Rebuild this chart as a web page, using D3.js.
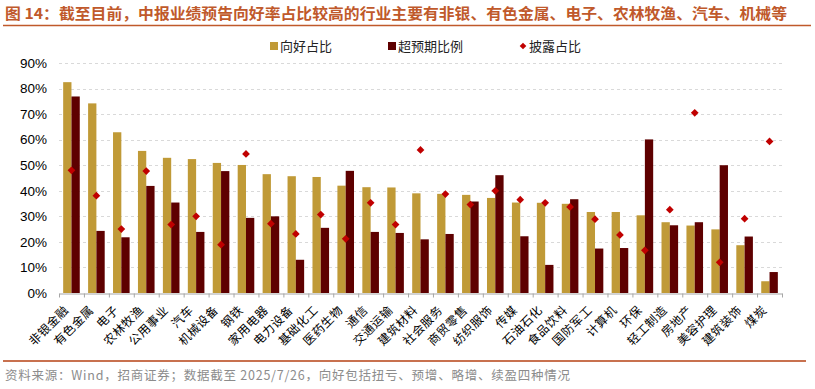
<!DOCTYPE html>
<html>
<head>
<meta charset="utf-8">
<script src="https://cdn.jsdelivr.net/npm/d3@7"></script>
<style>
  body { margin: 0; background: #fff; }
  svg { display: block; }
</style>
</head>
<body>
<div id="chart"></div>
<script>
// 行业
const industries = ['非银金融','有色金属','电子','农林牧渔','公用事业','汽车','机械设备','钢铁','家用电器','电力设备',
  '基础化工','医药生物','通信','交通运输','建筑材料','社会服务','商贸零售','纺织服饰','传媒','石油石化',
  '食品饮料','国防军工','计算机','环保','轻工制造','房地产','美容护理','建筑装饰','煤炭'];
// 向好占比 (%)
const goodShare = [82.5,74.2,62.9,55.6,52.9,52.4,50.9,50.1,46.5,45.7,
  45.4,42.0,41.4,41.3,39.0,38.8,38.4,37.2,35.4,35.3,
  34.9,31.7,31.7,30.4,27.7,26.4,24.9,18.7,4.6];
// 超预期比例 (%)
const beatShare = [76.9,24.3,21.8,41.9,35.4,23.9,47.7,29.4,30.0,13.0,
  25.5,47.8,23.9,23.5,21.0,23.1,35.8,46.1,22.2,11.0,
  36.7,17.4,17.6,60.1,26.5,27.7,50.0,22.1,8.2];
// 披露占比 (%)
const discloseShare = [48.0,38.1,25.0,47.7,26.8,30.0,18.9,54.4,27.1,23.1,
  30.7,21.2,35.3,26.8,56.0,38.7,34.6,40.0,36.5,35.3,
  33.7,28.9,22.7,16.7,32.6,70.5,12.0,29.1,59.3];
const yTicks = [0,10,20,30,40,50,60,70,80,90];

const width = 815, height = 389;
const margin = {top: 63, right: 33, bottom: 96, left: 59};
const colGood = '#c09a37', colBeat = '#5e0000', colDisc = '#c00000';
const cjk = '"Noto Sans CJK SC", sans-serif';

const svg = d3.select('#chart').append('svg')
  .attr('width', width)
  .attr('height', height);

// title
svg.append('text')
  .attr('x', 5).attr('y', 19)
  .attr('fill', '#c0592b')
  .attr('font-family', cjk)
  .attr('font-weight', 'bold')
  .attr('font-size', 15)
  .attr('textLength', 782)
  .attr('lengthAdjust', 'spacingAndGlyphs')
  .text('图 14：截至目前，中报业绩预告向好率占比较高的行业主要有非银、有色金属、电子、农林牧渔、汽车、机械等');
svg.append('line')
  .attr('x1', 3).attr('x2', 811).attr('y1', 25.5).attr('y2', 25.5)
  .attr('stroke', '#c0592b').attr('stroke-width', 1.5);

const x = d3.scaleBand()
  .domain(industries)
  .range([margin.left, width - margin.right]);
const y = d3.scaleLinear()
  .domain([0, 90])
  .range([height - margin.bottom, margin.top]);

//gridlines
svg.append('g').selectAll('line')
  .data(yTicks.filter(d => d > 0))
  .enter().append('line')
  .attr('x1', margin.left).attr('x2', width - margin.right)
  .attr('y1', d => Math.round(y(d)) + 0.5).attr('y2', d => Math.round(y(d)) + 0.5)
  .attr('stroke', '#d9d9d9')
  .attr('stroke-dasharray', '3,3');

// y axis labels
const yAxis = d3.axisLeft(y)
  .tickValues(yTicks)
  .tickFormat(d => d + '%')
  .tickSize(0)
  .tickPadding(12);
const yG = svg.append('g')
  .attr('transform', 'translate(' + margin.left + ',0)')
  .call(yAxis);
yG.select('.domain').remove();
yG.selectAll('text')
  .attr('font-family', 'Liberation Sans, Arial, sans-serif')
  .attr('font-size', 13.5)
  .attr('fill', '#000');

// bars
const bw = 8.3;
const bars = svg.append('g');
bars.selectAll('rect.good')
  .data(industries)
  .enter().append('rect')
  .attr('class', 'good')
  .attr('x', d => x(d) + x.bandwidth() / 2 - bw)
  .attr('y', (d, i) => y(goodShare[i]))
  .attr('width', bw)
  .attr('height', (d, i) => y(0) - y(goodShare[i]))
  .attr('fill', colGood);
bars.selectAll('rect.beat')
  .data(industries)
  .enter().append('rect')
  .attr('class', 'beat')
  .attr('x', d => x(d) + x.bandwidth() / 2)
  .attr('y', (d, i) => y(beatShare[i]))
  .attr('width', bw)
  .attr('height', (d, i) => y(0) - y(beatShare[i]))
  .attr('fill', colBeat);

// x axis
const xAxis = d3.axisBottom(x).tickSize(0).tickFormat('');
const xG = svg.append('g')
  .attr('transform', 'translate(0,' + (y(0) + 0.5) + ')')
  .call(xAxis);
xG.select('.domain').attr('stroke', '#a6a6a6');
xG.selectAll('line.sep')
  .data(d3.range(industries.length + 1))
  .enter().append('line')
  .attr('class', 'sep')
  .attr('x1', i => margin.left + i * x.step() + 0.5)
  .attr('x2', i => margin.left + i * x.step() + 0.5)
  .attr('y1', 0).attr('y2', 4)
  .attr('stroke', '#a6a6a6');

// x labels
svg.append('g').selectAll('text')
  .data(industries)
  .enter().append('text')
  .attr('transform', d => 'translate(' + (x(d) + x.bandwidth() / 2 - 5) + ',' + (y(0) + 15) + ') rotate(-45)')
  .attr('text-anchor', 'end')
  .attr('dy', '0.35em')
  .attr('font-family', cjk)
  .attr('font-size', 12)
  .attr('letter-spacing', 0.5)
  .attr('fill', '#000')
  .text(d => d);

// diamonds
const diamond = d3.symbol().type(d3.symbolSquare).size(30);
svg.append('g').selectAll('path')
  .data(industries)
  .enter().append('path')
  .attr('d', diamond)
  .attr('transform', (d, i) => 'translate(' + (x(d) + x.bandwidth() / 2) + ',' + y(discloseShare[i]) + ') rotate(45)')
  .attr('fill', colDisc);

// legend
const legend = svg.append('g').attr('font-family', cjk).attr('font-size', 13);
const legendItems = [
  {name: '向好占比', type: 'rect', color: colGood, x: 270},
  {name: '超预期比例', type: 'rect', color: colBeat, x: 388},
  {name: '披露占比', type: 'diamond', color: colDisc, x: 519}
];
legendItems.forEach(item => {
  if(item.type === 'rect'){
    legend.append('rect')
      .attr('x', item.x).attr('y', 42)
      .attr('width', 8).attr('height', 8)
      .attr('fill', item.color);
  }else{
    legend.append('path')
      .attr('d', d3.symbol().type(d3.symbolSquare).size(22))
      .attr('transform', 'translate(' + (item.x + 4) + ',46) rotate(45)')
      .attr('fill', item.color);
  }
  legend.append('text')
    .attr('x', item.x + 10).attr('y', 51)
    .attr('fill', '#222')
    .text(item.name);
});

// source
svg.append('line')
  .attr('x1', 3).attr('x2', 806).attr('y1', 361).attr('y2', 361)
  .attr('stroke', '#c8714f').attr('stroke-width', 2);
svg.append('text')
  .attr('x', 5).attr('y', 380)
  .attr('fill', '#8c8c8c')
  .attr('font-family', cjk)
  .attr('font-size', 12.5)
  .attr('textLength', 565)
  .attr('lengthAdjust', 'spacing')
  .text('资料来源：Wind，招商证券；数据截至 2025/7/26，向好包括扭亏、预增、略增、续盈四种情况');
</script>
</body>
</html>
